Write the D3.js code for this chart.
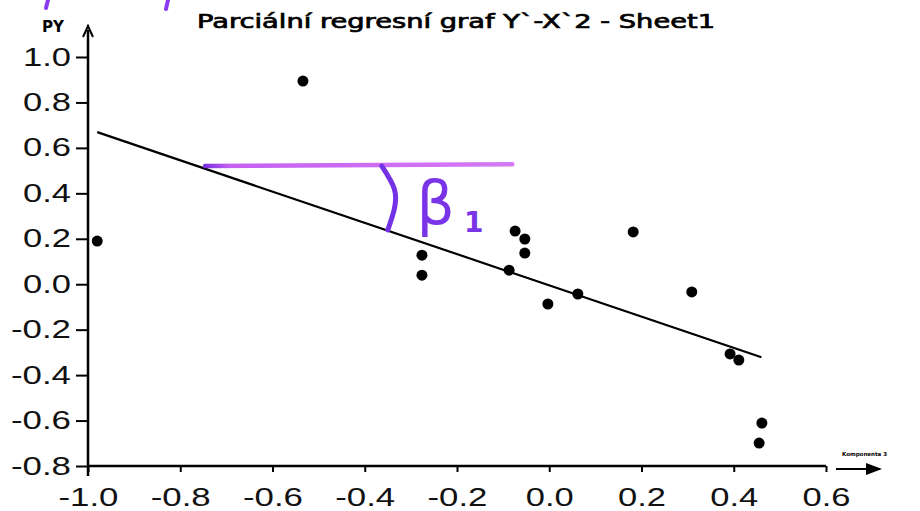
<!DOCTYPE html>
<html>
<head>
<meta charset="utf-8">
<script src="https://cdn.jsdelivr.net/npm/d3@7"></script>
<style>
  body { margin: 0; background: #fff; }
  svg { display: block; }
</style>
</head>
<body>
<svg id="chart" width="920" height="511"></svg>
<script>
// residual scatter (partial regression Y vs X2)
var xValues = [-0.98, -0.534, -0.276, -0.276, -0.074, -0.053, -0.053, -0.087, -0.003, 0.062, 0.182, 0.309, 0.392, 0.411, 0.461, 0.455];
var yValues = [0.19, 0.894, 0.128, 0.04, 0.234, 0.199, 0.137, 0.062, -0.087, -0.043, 0.23, -0.034, -0.307, -0.334, -0.611, -0.699];

var xTicks = [-1.0, -0.8, -0.6, -0.4, -0.2, 0.0, 0.2, 0.4, 0.6];
var yTicks = [1.0, 0.8, 0.6, 0.4, 0.2, 0.0, -0.2, -0.4, -0.6, -0.8];

// fitted line
var regSlope = -0.688;
var regIntercept = -0.005;
var regRange = [-0.98, 0.46];

// handwritten annotation (purple)
var annoLineX = [-0.746, -0.08];
var annoLineY = [0.52, 0.528];
var annoArc = [[-0.363, 0.52], [-0.336, 0.42], [-0.336, 0.33], [-0.35, 0.239]];

var title = "Parciální regresní graf Y`-X`2 - Sheet1";

var points = xValues.map(function (v, i) {
    return { x: v, y: yValues[i] };
});

var svg = d3.select('#chart');

var x = d3.scaleLinear()
    .domain([-1, 0.6])
    .range([88, 826]);

var y = d3.scaleLinear()
    .domain([-0.8, 1.0])
    .range([466, 57]);

var fmt = d3.format('.1f');

function label(d) {
    return fmt(d).replace('−', '-');
}

// old-style wide digits: stretch each label to the width seen on the scan
function styleLabels(sel) {
    sel.selectAll('.tick text')
        .attr('font-family', '"Liberation Sans", Arial, sans-serif')
        .attr('font-size', 25)
        .attr('fill', '#111')
        .attr('textLength', function (d) { return d < 0 ? 60 : 48; })
        .attr('lengthAdjust', 'spacingAndGlyphs')
        .text(label);
}

// y axis
var yAxis = svg.append('g')
    .attr('transform', 'translate(' + x(-1) + ',0)')
    .call(d3.axisLeft(y).tickValues(yTicks).tickSize(12).tickPadding(5));
yAxis.select('.domain').remove();
yAxis.selectAll('.tick line').attr('stroke', '#000').attr('stroke-width', 2);
styleLabels(yAxis);

svg.append('line')
    .attr('x1', x(-1)).attr('x2', x(-1))
    .attr('y1', y(-0.8) + 10).attr('y2', 30)
    .attr('stroke', '#000').attr('stroke-width', 2.5);

svg.append('path')
    .attr('d', 'M' + (x(-1) - 5) + ',37 L' + x(-1) + ',26 L' + (x(-1) + 5) + ',37')
    .attr('fill', 'none').attr('stroke', '#000').attr('stroke-width', 2);

svg.append('text')
    .attr('x', 42).attr('y', 32)
    .attr('font-family', '"DejaVu Sans", sans-serif')
    .attr('font-weight', 'bold')
    .attr('font-size', 15)
    .attr('textLength', 22)
    .attr('lengthAdjust', 'spacingAndGlyphs')
    .text('PY');

// x axis
var xAxis = svg.append('g')
    .attr('transform', 'translate(0,' + y(-0.8) + ')')
    .call(d3.axisBottom(x).tickValues(xTicks).tickSize(6).tickPadding(16));
xAxis.select('.domain').remove();
xAxis.selectAll('.tick line').attr('stroke', '#000').attr('stroke-width', 2);
styleLabels(xAxis);

svg.append('line')
    .attr('x1', x(-1)).attr('x2', x(0.6))
    .attr('y1', y(-0.8)).attr('y2', y(-0.8))
    .attr('stroke', '#000').attr('stroke-width', 2.5);

svg.append('line')
    .attr('x1', 836).attr('x2', 880)
    .attr('y1', 469).attr('y2', 469)
    .attr('stroke', '#000').attr('stroke-width', 2);
svg.append('path')
    .attr('d', 'M866,463 L882,469 L866,475 Z')
    .attr('fill', '#000');
svg.append('text')
    .attr('x', 842).attr('y', 456)
    .attr('font-family', '"DejaVu Sans", sans-serif')
    .attr('font-size', 5.5)
    .attr('font-weight', 'bold')
    .text('Komponenta 3');

// title
svg.append('text')
    .attr('x', 197).attr('y', 28)
    .attr('font-family', '"DejaVu Sans", sans-serif')
    .attr('font-size', 19)
    .attr('stroke', '#000')
    .attr('stroke-width', 0.7)
    .attr('textLength', 518)
    .attr('lengthAdjust', 'spacingAndGlyphs')
    .text(title);

// regression line
svg.append('line')
    .attr('x1', x(regRange[0])).attr('y1', y(regIntercept + regSlope * regRange[0]))
    .attr('x2', x(regRange[1])).attr('y2', y(regIntercept + regSlope * regRange[1]))
    .attr('stroke', '#000').attr('stroke-width', 2.2);

// points
svg.append('g').selectAll('circle')
    .data(points)
    .enter().append('circle')
    .attr('cx', function (d) { return x(d.x); })
    .attr('cy', function (d) { return y(d.y); })
    .attr('r', 5.5)
    .attr('fill', '#000');

// purple annotation
var defs = svg.append('defs');
var grad = defs.append('linearGradient').attr('id', 'pgrad')
    .attr('x1', '0%').attr('x2', '100%').attr('y1', '0%').attr('y2', '0%');
grad.append('stop').attr('offset', '0%').attr('stop-color', '#7a30e0');
grad.append('stop').attr('offset', '8%').attr('stop-color', '#c660f2');
grad.append('stop').attr('offset', '100%').attr('stop-color', '#d47af5');

svg.append('line')
    .attr('x1', x(annoLineX[0])).attr('y1', y(annoLineY[0]))
    .attr('x2', x(annoLineX[1])).attr('y2', y(annoLineY[1]))
    .attr('stroke', 'url(#pgrad)').attr('stroke-width', 4.5)
    .attr('stroke-linecap', 'round');

svg.append('path')
    .attr('d', d3.line().x(function (d) { return x(d[0]); }).y(function (d) { return y(d[1]); })
        .curve(d3.curveNatural)(annoArc))
    .attr('fill', 'none').attr('stroke', '#7432e6').attr('stroke-width', 5)
    .attr('stroke-linecap', 'round');

svg.append('text')
    .attr('x', x(-0.288)).attr('y', y(0.265))
    .attr('font-family', '"DejaVu Sans", sans-serif')
    .attr('font-size', 60)
    .attr('fill', '#7a34e8')
    .text('β');
svg.append('text')
    .attr('x', x(-0.185)).attr('y', y(0.232))
    .attr('font-family', '"DejaVu Sans", sans-serif')
    .attr('font-size', 28)
    .attr('font-weight', 'bold')
    .attr('fill', '#7a34e8')
    .text('1');

// stray pen marks at the top edge
svg.append('path')
    .attr('d', 'M48,0 L46,8 M168,0 L166,9')
    .attr('stroke', '#8a3cf0').attr('stroke-width', 4).attr('stroke-linecap', 'round');
</script>
</body>
</html>
